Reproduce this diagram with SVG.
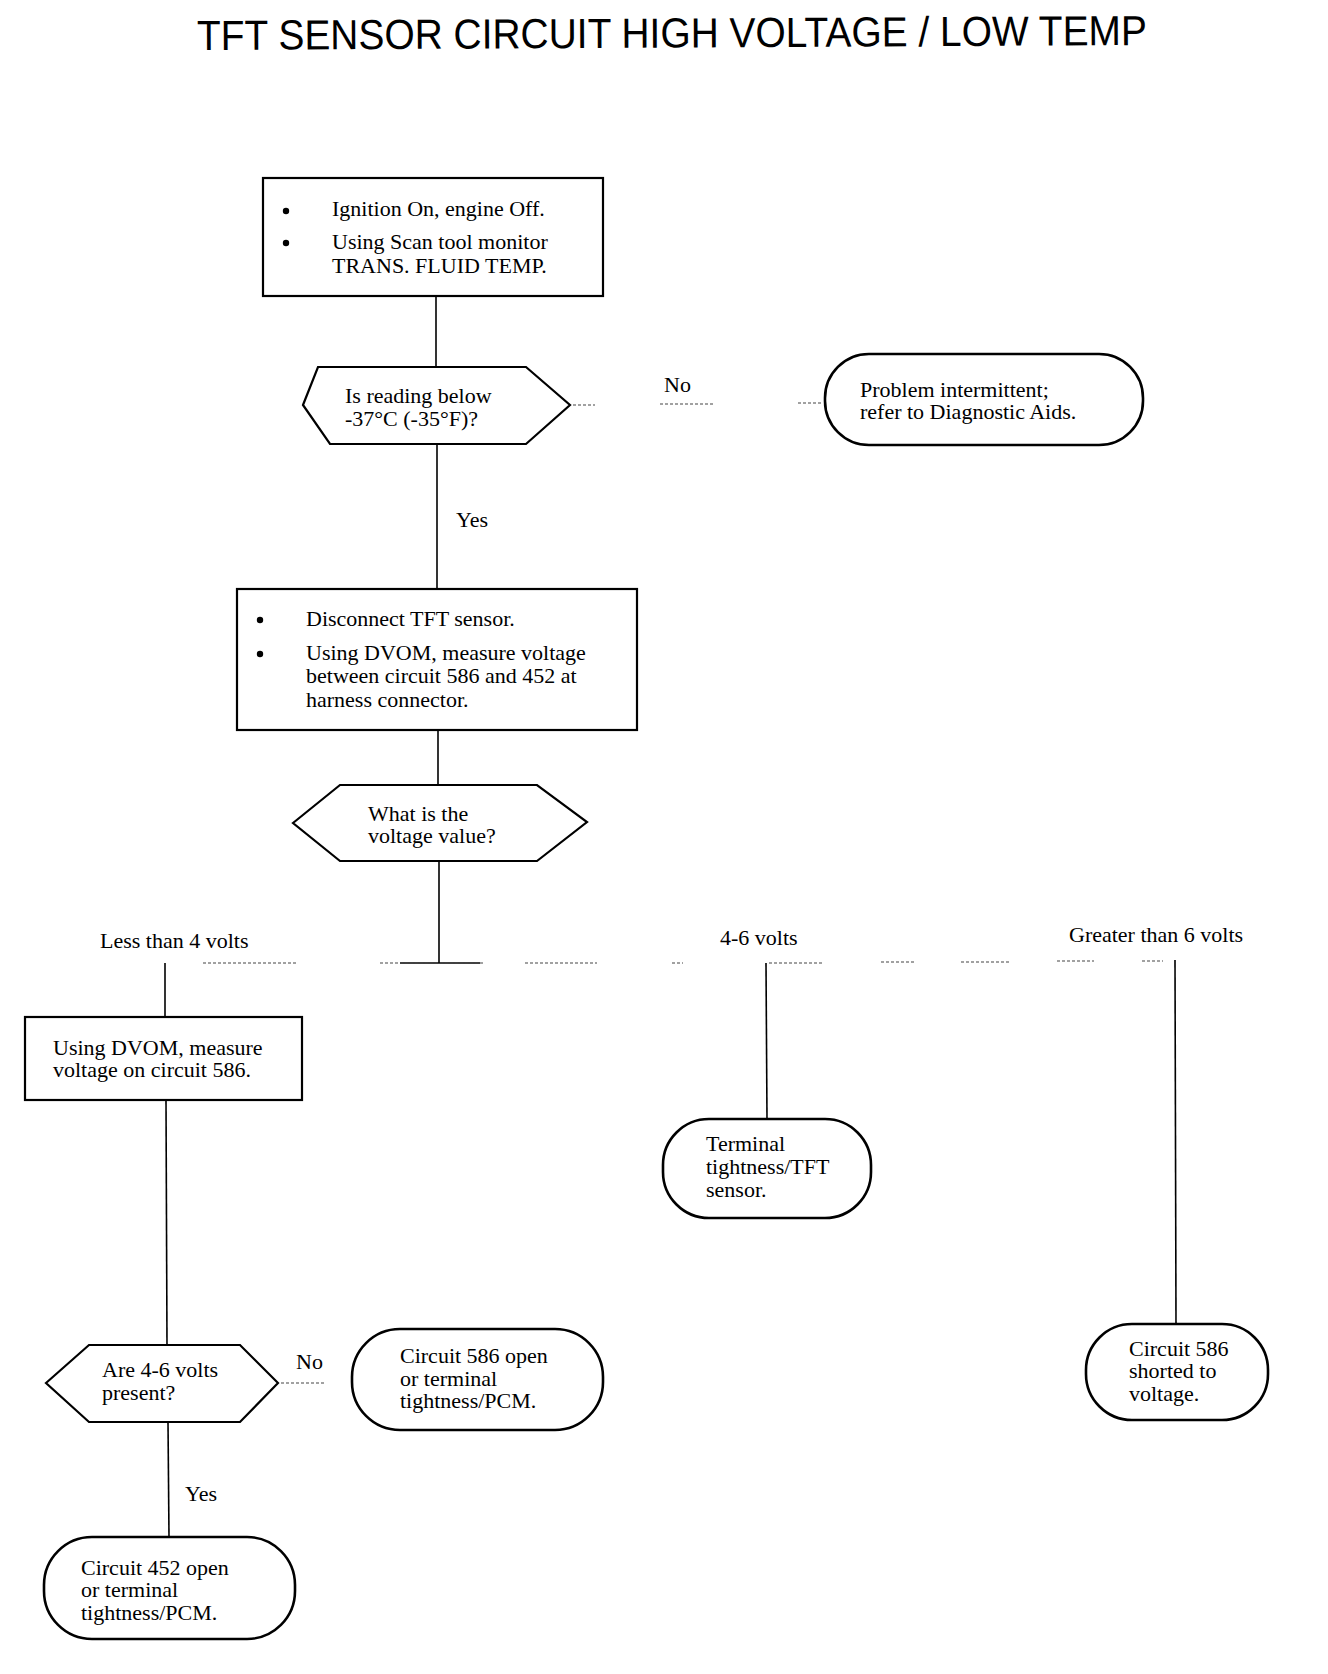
<svg xmlns="http://www.w3.org/2000/svg" width="1328" height="1674" viewBox="0 0 1328 1674">
<style>
.t{font-family:"Liberation Serif","Times New Roman",serif;font-size:22px;fill:#000}
.title{font-family:"Liberation Sans",Arial,sans-serif;font-size:42px;fill:#000}
.box{fill:#fff;stroke:#000;stroke-width:2.2}
.oval{fill:#fff;stroke:#000;stroke-width:2.6}
.ln{fill:none;stroke:#000;stroke-width:1.6}
.dot{fill:none;stroke:#444;stroke-width:1.2;stroke-dasharray:3 2}
.bul{fill:#000}
</style>
<rect width="1328" height="1674" fill="#fff"/>
<text class="title" x="197" y="50" textLength="950" lengthAdjust="spacingAndGlyphs" transform="rotate(-0.3 197 50)">TFT SENSOR CIRCUIT HIGH VOLTAGE / LOW TEMP</text>

<g id="connectors">
<line class="ln" x1="436" y1="296" x2="436" y2="367"/>
<line class="ln" x1="437" y1="444" x2="437" y2="589"/>
<line class="ln" x1="438" y1="730" x2="438" y2="785"/>
<line class="ln" x1="439" y1="861" x2="439" y2="963"/>
<line class="ln" x1="165" y1="963" x2="165" y2="1016"/>
<line class="ln" x1="166" y1="1100" x2="167" y2="1345"/>
<line class="ln" x1="168" y1="1422" x2="169" y2="1537"/>
<line class="ln" x1="766" y1="963" x2="767" y2="1119"/>
<line class="ln" x1="1175" y1="960" x2="1176" y2="1324"/>
<line class="ln" x1="400" y1="963" x2="480" y2="963"/>
<g class="dot">
<line x1="573" y1="405" x2="595" y2="405"/>
<line x1="660" y1="404" x2="715" y2="404"/>
<line x1="798" y1="403" x2="823" y2="403"/>
<line x1="203" y1="963" x2="298" y2="963"/>
<line x1="380" y1="963" x2="483" y2="963"/>
<line x1="525" y1="963" x2="597" y2="963"/>
<line x1="672" y1="963" x2="683" y2="963"/>
<line x1="769" y1="963" x2="822" y2="963"/>
<line x1="881" y1="962" x2="916" y2="962"/>
<line x1="961" y1="962" x2="1009" y2="962"/>
<line x1="1057" y1="961" x2="1094" y2="961"/>
<line x1="1142" y1="961" x2="1163" y2="961"/>
<line x1="281" y1="1383" x2="326" y2="1383"/>
</g>
<text class="t" x="664" y="392">No</text>
<text class="t" x="456" y="527">Yes</text>
<text class="t" x="100" y="948">Less than 4 volts</text>
<text class="t" x="720" y="945">4-6 volts</text>
<text class="t" x="1069" y="942">Greater than 6 volts</text>
<text class="t" x="296" y="1369">No</text>
<text class="t" x="185" y="1501">Yes</text>
</g>

<g id="box1">
<rect class="box" x="263" y="178" width="340" height="118"/>
<circle class="bul" cx="286" cy="211" r="3.2"/>
<circle class="bul" cx="286" cy="243" r="3.2"/>
<text class="t" x="332" y="216">Ignition On, engine Off.</text>
<text class="t" x="332" y="249">Using Scan tool monitor</text>
<text class="t" x="332" y="273">TRANS. FLUID TEMP.</text>
</g>

<g id="dec1">
<polygon class="box" points="303,405 318,367 526,367 570,405 526,444 330,444"/>
<text class="t" x="345" y="403">Is reading below</text>
<text class="t" x="345" y="426">-37°C (-35°F)?</text>
</g>

<g id="end1">
<rect class="oval" x="825" y="354" width="318" height="91" rx="44" ry="44"/>
<text class="t" x="860" y="397">Problem intermittent;</text>
<text class="t" x="860" y="419">refer to Diagnostic Aids.</text>
</g>

<g id="box2">
<rect class="box" x="237" y="589" width="400" height="141"/>
<circle class="bul" cx="260" cy="620" r="3.2"/>
<circle class="bul" cx="260" cy="654" r="3.2"/>
<text class="t" x="306" y="626">Disconnect TFT sensor.</text>
<text class="t" x="306" y="660">Using DVOM, measure voltage</text>
<text class="t" x="306" y="683">between circuit 586 and 452 at</text>
<text class="t" x="306" y="707">harness connector.</text>
</g>

<g id="dec2">
<polygon class="box" points="293,823 340,785 537,785 587,822 537,861 340,861"/>
<text class="t" x="368" y="821">What is the</text>
<text class="t" x="368" y="843">voltage value?</text>
</g>

<g id="box3">
<rect class="box" x="25" y="1017" width="277" height="83"/>
<text class="t" x="53" y="1055">Using DVOM, measure</text>
<text class="t" x="53" y="1077">voltage on circuit 586.</text>
</g>

<g id="end2">
<rect class="oval" x="663" y="1119" width="208" height="99" rx="46" ry="46"/>
<text class="t" x="706" y="1151">Terminal</text>
<text class="t" x="706" y="1174">tightness/TFT</text>
<text class="t" x="706" y="1197">sensor.</text>
</g>

<g id="dec3">
<polygon class="box" points="46,1383 89,1345 240,1345 278,1383 240,1422 89,1422"/>
<text class="t" x="102" y="1377">Are 4-6 volts</text>
<text class="t" x="102" y="1400">present?</text>
</g>

<g id="end3">
<rect class="oval" x="352" y="1329" width="251" height="101" rx="48" ry="48"/>
<text class="t" x="400" y="1363">Circuit 586 open</text>
<text class="t" x="400" y="1386">or terminal</text>
<text class="t" x="400" y="1408">tightness/PCM.</text>
</g>

<g id="end4">
<rect class="oval" x="44" y="1537" width="251" height="102" rx="48" ry="48"/>
<text class="t" x="81" y="1575">Circuit 452 open</text>
<text class="t" x="81" y="1597">or terminal</text>
<text class="t" x="81" y="1620">tightness/PCM.</text>
</g>

<g id="end5">
<rect class="oval" x="1086" y="1324" width="182" height="96" rx="46" ry="46"/>
<text class="t" x="1129" y="1356">Circuit 586</text>
<text class="t" x="1129" y="1378">shorted to</text>
<text class="t" x="1129" y="1401">voltage.</text>
</g>
</svg>
